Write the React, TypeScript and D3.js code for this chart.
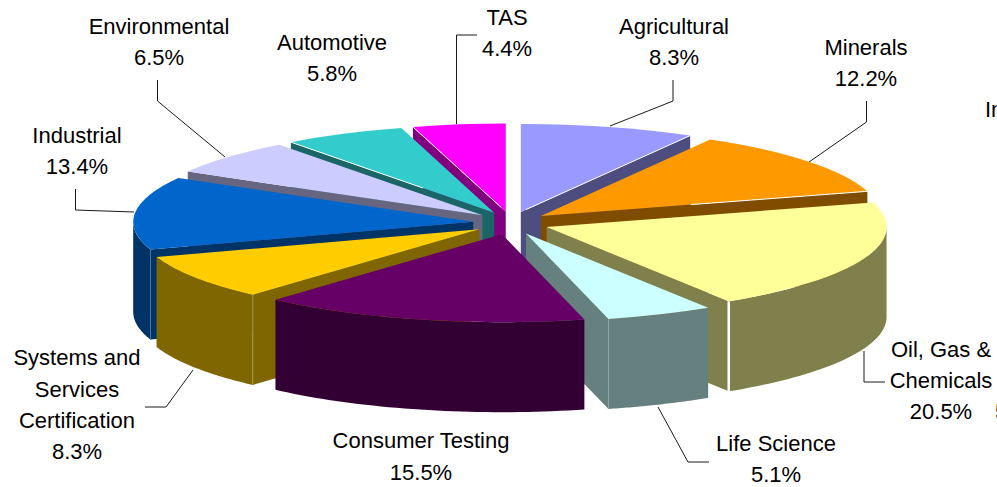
import React from "react";
import * as d3 from "d3";

const names = ["Agricultural", "Minerals", "Oil, Gas & Chemicals", "Life Science", "Consumer Testing", "Systems and Services Certification", "Industrial", "Environmental", "Automotive", "TAS"];
const shares = [8.3, 12.2, 20.5, 5.1, 15.5, 8.3, 13.4, 6.5, 5.8, 4.4];
const topColors = ["#9999FF", "#FF9900", "#FFFF99", "#CCFFFF", "#660066", "#FFCC00", "#0066CC", "#CCCCFF", "#33CCCC", "#FF00FF"];
const sideColors = ["#4D4D80", "#804D00", "#80804D", "#668080", "#330033", "#806600", "#003366", "#666680", "#1A6666", "#800080"];
// fraction of the cut edge, measured from the rim, that carries a white hairline
const edgeGlints = [0.97, 0.54, 0, 0, 0, 0, 0, 0, 0.65, 0.95];
// colour and width of the vertical seam at the front corner of a slice
const seamColors = ["", "", "#FFFFFF", "#8FA6A6", "", "#A89A55", "#4D7099", "", "", ""];
const seamWidths = [0, 0, 2.5, 1, 0, 1, 1, 0, 0, 0];

const labelLines = [
  { lines: ["Agricultural", "8.3%"], x: 674, y: [34, 65] },
  { lines: ["Minerals", "12.2%"], x: 866, y: [55, 86] },
  { lines: ["Oil, Gas &", "Chemicals", "20.5%"], x: 941, y: [357, 388, 419] },
  { lines: ["Life Science", "5.1%"], x: 776, y: [451, 482] },
  { lines: ["Consumer Testing", "15.5%"], x: 421, y: [448, 480] },
  { lines: ["Systems and", "Services", "Certification", "8.3%"], x: 77, y: [365, 397, 428, 459] },
  { lines: ["Industrial", "13.4%"], x: 77, y: [143, 174] },
  { lines: ["Environmental", "6.5%"], x: 159, y: [34, 65] },
  { lines: ["Automotive", "5.8%"], x: 332, y: [50, 81] },
  { lines: ["TAS", "4.4%"], x: 507, y: [25, 56] },
];
const clippedLabels = [
  { text: "In", x: 985, y: 117 },
  { text: "5", x: 995, y: 419 },
];
const leaders: [number, number][][] = [
  [[673, 80], [673, 101], [610, 126]],
  [[866.5, 101], [866.5, 122], [809, 162]],
  [[885, 382], [864, 382], [864, 351]],
  [[709, 462], [688, 462], [658, 407]],
  [[145, 407], [166, 407], [193, 370]],
  [[75.5, 189], [75.5, 210], [134, 212]],
  [[157.5, 80], [157.5, 101], [225, 157]],
  [[477, 35], [456.5, 35], [456.5, 124]],
];

const CX = 511, CY = 223, RX = 340, RY = 88, EX = 38, EY = 11.5, DEPTH = 90;
const FONT = '"Liberation Sans", Arial, sans-serif';

const pie = d3.pie<number>().sort(null).value((d) => d);
const arcs = pie(shares);
const line = d3.line<[number, number]>();

const slices = arcs.map((a, i) => {
  const mid = (a.startAngle + a.endAngle) / 2;
  const ox = CX + EX * Math.sin(mid);
  const oy = CY - EY * Math.cos(mid);
  const rim = (t: number, drop = 0): [number, number] => [ox + RX * Math.sin(t), oy - RY * Math.cos(t) + drop];
  return { i, a0: a.startAngle, a1: a.endAngle, mid, ox, oy, rim };
});
const paintOrder = [...slices].sort((p, q) => Math.cos(q.mid) - Math.cos(p.mid));

const wedgeArc = d3.arc<any>().innerRadius(0).outerRadius(RX);

function outerWall(s: (typeof slices)[number]) {
  const from = Math.max(s.a0, Math.PI / 2);
  const to = Math.min(s.a1, (3 * Math.PI) / 2);
  if (to <= from) return null;
  const ts = d3.range(0, 41).map((k) => from + ((to - from) * k) / 40);
  const pts = [...ts.map((t) => s.rim(t)), ...ts.slice().reverse().map((t) => s.rim(t, DEPTH))];
  return line(pts) + "Z";
}

function cutWall(s: (typeof slices)[number]) {
  const angle = Math.sin(s.a1) > 0 && s.a1 < Math.PI ? s.a1 : Math.sin(s.a0) < 0 && s.a0 >= Math.PI ? s.a0 : null;
  if (angle === null) return null;
  const apex: [number, number] = [s.ox, s.oy];
  const apexLow: [number, number] = [s.ox, s.oy + DEPTH];
  return { angle, d: line([apex, s.rim(angle), s.rim(angle, DEPTH), apexLow])! + "Z" };
}

export default function App() {
  return (
    <svg width={997} height={487} viewBox="0 0 997 487" style={{ position: "absolute", left: 0, top: 0, background: "#fff" }}>
      {leaders.map((pts, i) => (
        <path key={i} d={line(pts)!} fill="none" stroke="#1a1a1a" strokeWidth={1} />
      ))}
      {paintOrder.map((s) => {
        const cut = cutWall(s);
        const wall = outerWall(s);
        const glint = edgeGlints[s.i];
        const cornerAngle = s.a1 < Math.PI ? s.a1 : s.a0;
        const corner = s.rim(cornerAngle);
        const rimPoint = cut ? s.rim(cut.angle) : corner;
        const glintEnd: [number, number] = [rimPoint[0] + (s.ox - rimPoint[0]) * glint, rimPoint[1] + (s.oy - rimPoint[1]) * glint];
        return (
          <g key={s.i}>
            {cut && <path d={cut.d} fill={sideColors[s.i]} />}
            {wall && <path d={wall} fill={sideColors[s.i]} />}
            {seamWidths[s.i] > 0 && (
              <line x1={corner[0]} y1={corner[1]} x2={corner[0]} y2={corner[1] + DEPTH} stroke={seamColors[s.i]} strokeWidth={seamWidths[s.i]} />
            )}
            <path
              transform={`translate(${s.ox},${s.oy}) scale(1,${RY / RX})`}
              d={wedgeArc({ startAngle: s.a0, endAngle: s.a1 })!}
              fill={topColors[s.i]}
            />
            {glint > 0 && <path d={line([rimPoint, glintEnd])!} stroke="#fff" strokeWidth={1} fill="none" />}
          </g>
        );
      })}
      <g fontFamily={FONT} fontSize={22} fill="#000" textAnchor="middle">
        {labelLines.map((l, i) =>
          l.lines.map((t, k) => (
            <text key={`${i}-${k}`} x={l.x} y={l.y[k]}>
              {t}
            </text>
          ))
        )}
      </g>
      <g fontFamily={FONT} fontSize={22} fill="#000">
        {clippedLabels.map((l) => (
          <text key={l.text} x={l.x} y={l.y}>
            {l.text}
          </text>
        ))}
      </g>
    </svg>
  );
}
